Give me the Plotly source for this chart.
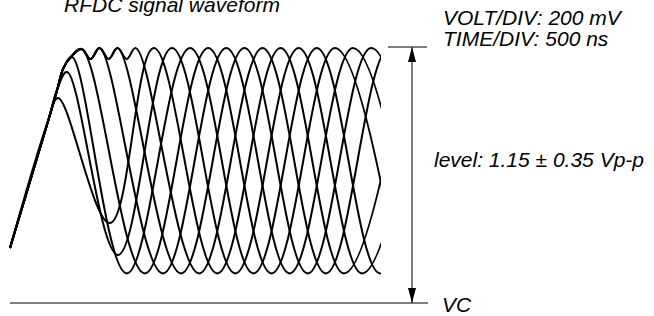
import plotly.graph_objects as go

W, H = 654, 316

# ---- scale of the scope screen -------------------------------------------
MV_PER_PX = 1150 / 256      # the 1.15 V arrow spans 256 screen rows
VC_ROW = 303                # screen row of the VC reference line

# ---- data: time (t units) and level above VC (mV) ------------------------
ARROW_TOP_MV = 1150         # top of the "level" arrow

# common path: rising edge followed by the top scallops
COMMON_T = [10.0, 48.4, 57.1, 63.5, 70.0, 81.5, 90.5, 99.6, 108.6, 117.7, 126.7]
COMMON_MV = [247, 822, 957, 1056, 1100, 1141, 1096, 1145, 1096, 1145, 1096]
COMMON_USED = [2, 3, 4, 5, 7, 9, 11]   # common samples followed by each trace

# extrema of the seven traces after they leave the common path
A_T = [58.0, 110.0, 153.9, 217.3, 280.6, 343.9, 407.3]
A_MV = [921, 359, 1145, 133, 1145, 133, 1145]
B_T = [67.0, 118.0, 172.0, 235.4, 298.7, 362.1, 425.4]
B_MV = [1038, 216, 1145, 133, 1145, 133, 1145]
C_T = [72.0, 126.8, 190.1, 253.5, 316.8, 380.2, 443.5]
C_MV = [1105, 133, 1145, 133, 1145, 133, 1145]
D_T = [81.5, 144.9, 208.2, 271.6, 334.9, 398.3]
D_MV = [1141, 133, 1145, 133, 1145, 133]
E_T = [99.6, 163.0, 226.3, 289.7, 353.0, 416.4]
E_MV = [1145, 133, 1145, 133, 1145, 133]
F_T = [117.7, 181.1, 244.4, 307.8, 371.1, 434.5]
F_MV = [1145, 133, 1145, 133, 1145, 133]
G_T = [135.8, 199.2, 262.5, 325.9, 389.2, 452.6]
G_MV = [1145, 133, 1145, 133, 1145, 133]

TRACES_T = [A_T, B_T, C_T, D_T, E_T, F_T, G_T]
TRACES_MV = [A_MV, B_MV, C_MV, D_MV, E_MV, F_MV, G_MV]

WAVE_END = 381      # screen column where the traces are cut
BASE_X = [10, 428]  # VC line extent (screen columns)
ARROW_X = 412
TOPMARK_X = [388, 427]

FONT = "Liberation Sans, Arial, Helvetica, sans-serif"
FS = 21

fig = go.Figure()
for n, (tt, mv) in enumerate(zip(TRACES_T, TRACES_MV)):
    k = COMMON_USED[n]
    fig.add_trace(go.Scatter(
        x=COMMON_T[:k] + tt, y=COMMON_MV[:k] + mv, mode="lines",
        line=dict(color="black", width=2, shape="spline", smoothing=1.1),
        hoverinfo="skip", showlegend=False))

def px(col):
    return col / W

def py(row):
    return 1 - row / H

head_h = 15 * MV_PER_PX
head_w = 4
shapes = [
    dict(type="line", xref="paper", yref="y", x0=px(BASE_X[0]), x1=px(BASE_X[1]),
         y0=0, y1=0, line=dict(color="#808080", width=2)),
    dict(type="line", xref="paper", yref="y", x0=px(TOPMARK_X[0]), x1=px(TOPMARK_X[1]),
         y0=ARROW_TOP_MV, y1=ARROW_TOP_MV, line=dict(color="black", width=1)),
    dict(type="line", xref="paper", yref="y", x0=px(ARROW_X), x1=px(ARROW_X),
         y0=0, y1=ARROW_TOP_MV, line=dict(color="black", width=1)),
    dict(type="path", xref="paper", yref="y", fillcolor="black", line=dict(width=0),
         path=f"M{px(ARROW_X)},{ARROW_TOP_MV} L{px(ARROW_X - head_w)},{ARROW_TOP_MV - head_h} "
              f"L{px(ARROW_X + head_w)},{ARROW_TOP_MV - head_h} Z"),
    dict(type="path", xref="paper", yref="y", fillcolor="black", line=dict(width=0),
         path=f"M{px(ARROW_X)},0 L{px(ARROW_X - head_w)},{head_h} "
              f"L{px(ARROW_X + head_w)},{head_h} Z"),
]

def label(text, col, row, anchor="left"):
    return dict(text=text, xref="paper", yref="paper", x=px(col), y=py(row),
                xanchor=anchor, yanchor="middle", showarrow=False,
                font=dict(family=FONT, size=FS, color="black", style="italic"))

annotations = [
    label("RFDC signal waveform", 172, 4.7, "center"),
    label("VOLT/DIV: 200 mV", 441, 17.7),
    label("TIME/DIV: 500 ns", 441, 38.4),
    label("level: 1.15 ± 0.35 Vp-p", 432, 159.7),
    label("VC", 440, 304.7),
]

fig.update_layout(
    width=W, height=H, margin=dict(l=0, r=0, t=0, b=0),
    paper_bgcolor="white", plot_bgcolor="white",
    xaxis=dict(domain=[0, WAVE_END / W], range=[0, WAVE_END], visible=False, fixedrange=True),
    yaxis=dict(domain=[0, 1], range=[(VC_ROW - H) * MV_PER_PX, VC_ROW * MV_PER_PX],
               visible=False, fixedrange=True),
    shapes=shapes, annotations=annotations,
)
fig.write_html(
    "out.html",
    config={"displayModeBar": False},
    post_script="document.body.style.margin='0';document.body.style.overflow='hidden';",
)
